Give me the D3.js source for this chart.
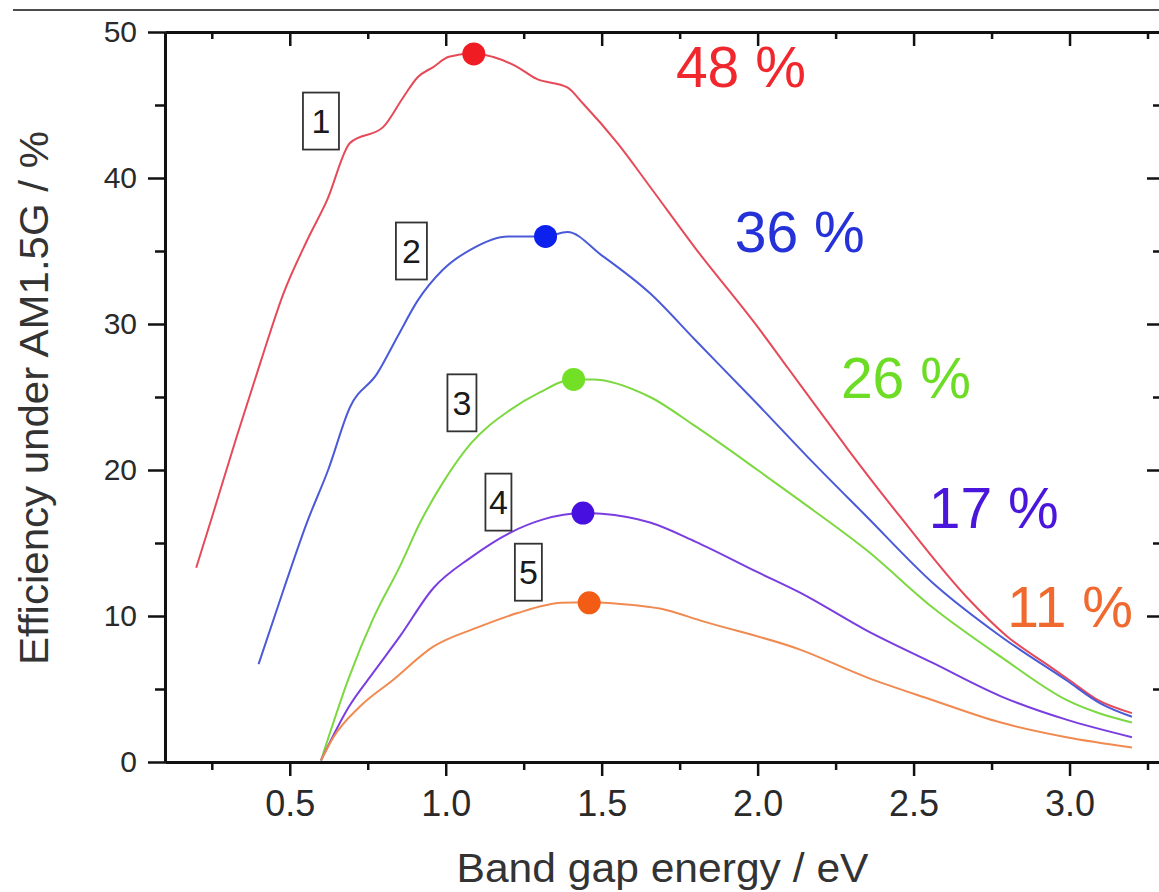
<!DOCTYPE html>
<html>
<head>
<meta charset="utf-8">
<script src="https://cdn.jsdelivr.net/npm/d3@7/dist/d3.min.js"></script>
<style>
  html, body { margin: 0; padding: 0; background: #fff; }
  svg { display: block; font-family: "Liberation Sans", Arial, sans-serif; }
</style>
</head>
<body>
<svg id="chart" width="1159" height="892"></svg>
<script>
// ---- data ----
const xMajorTicks = [0.5, 1.0, 1.5, 2.0, 2.5, 3.0];
const xMinorTicks = [0.25, 0.75, 1.25, 1.75, 2.25, 2.75, 3.25];
const yMajorTicks = [0, 10, 20, 30, 40, 50];
const yMinorTicks = [5, 15, 25, 35, 45];

const series1X = [0.2,0.254,0.33,0.405,0.48,0.555,0.62,0.693,0.8,0.863,0.91,0.96,1.01,1.09,1.15,1.23,1.29,1.39,1.44,1.55,1.655,1.8,2.0,2.1,2.2,2.29,2.457,2.67,2.8,2.94,3.0,3.09,3.2];
const series1Y = [13.3,17.0,22.3,27.3,32.1,35.7,38.5,42.4,43.5,45.5,46.9,47.6,48.3,48.55,48.3,47.6,46.8,46.2,45.1,42.4,39.4,35.2,29.8,26.9,24.0,21.4,16.8,11.3,8.6,6.5,5.6,4.25,3.35];

const series2X = [0.4,0.48,0.555,0.623,0.693,0.78,0.847,0.91,0.99,1.08,1.2,1.32,1.39,1.5,1.655,1.8,2.0,2.16,2.35,2.56,2.78,2.99,3.1,3.2];
const series2Y = [6.7,11.8,16.4,20.0,24.3,26.6,29.2,31.6,33.7,35.1,36.0,36.0,36.3,34.7,32.1,28.9,24.5,20.9,16.8,12.3,8.6,5.6,4.0,3.1];

const series3X = [0.6,0.69,0.767,0.853,0.918,0.99,1.08,1.206,1.3,1.41,1.47,1.655,1.8,2.0,2.136,2.35,2.56,2.78,2.99,3.2];
const series3Y = [0.1,5.8,9.8,13.4,16.4,19.1,21.8,24.1,25.3,26.2,26.2,25.0,23.0,20.0,17.9,14.5,10.6,7.2,4.25,2.7];

const series4X = [0.6,0.69,0.767,0.853,0.96,1.08,1.206,1.31,1.44,1.5,1.655,1.8,2.0,2.136,2.35,2.56,2.78,2.99,3.2];
const series4Y = [0.1,3.8,6.1,8.6,11.9,14.0,15.7,16.6,17.05,17.0,16.4,15.1,13.0,11.6,9.0,6.8,4.5,2.9,1.7];

const series5X = [0.6,0.64,0.725,0.83,0.96,1.1,1.23,1.37,1.46,1.6,1.71,1.815,2.136,2.35,2.56,2.78,2.99,3.2];
const series5Y = [0.1,1.7,3.8,5.6,7.9,9.2,10.2,10.9,10.95,10.75,10.4,9.7,7.7,5.8,4.25,2.7,1.7,1.0];

const peakX = [1.09, 1.32, 1.41, 1.44, 1.46];
const peakY = [48.5, 36.0, 26.2, 17.05, 10.9];
const peakLabels = ["48 %", "36 %", "26 %", "17 %", "11 %"];
const peakLabelX = [1.738, 1.927, 2.267, 2.549, 2.80];
const peakLabelY = [46.2, 34.9, 24.9, 16.0, 9.25];

const curveNames = ["1", "2", "3", "4", "5"];
const boxX = [0.60, 0.89, 1.052, 1.169, 1.265];
const boxY = [43.9, 35.0, 24.6, 17.8, 13.0];

const lineColors = ["#e64a58", "#4a5ad8", "#7cd840", "#7a3ee0", "#f08a50"];
const dotColors  = ["#f01c24", "#0c20ee", "#72e024", "#4810e0", "#f35c14"];
const textColors = ["#f0282e", "#2432d8", "#6cdc24", "#4a16dc", "#f06a30"];

// ---- layout ----
const svg = d3.select("#chart");
const W = 1159, H = 892;
const plot = { left: 165, right: 1160, top: 32, bottom: 762 };

const x = d3.scaleLinear().domain([0.1, 3.29]).range([plot.left, plot.right]);
const y = d3.scaleLinear().domain([0, 50]).range([plot.bottom, plot.top]);

svg.append("rect").attr("width", W).attr("height", H).attr("fill", "#fff");

// thin top border line
svg.append("line").attr("x1", 13).attr("x2", W).attr("y1", 10).attr("y2", 10)
  .attr("stroke", "#111").attr("stroke-width", 1.5);

// ---- curves ----
const allX = [series1X, series2X, series3X, series4X, series5X];
const allY = [series1Y, series2Y, series3Y, series4Y, series5Y];
const line = d3.line().x(d => x(d[0])).y(d => y(d[1])).curve(d3.curveMonotoneX);

allX.forEach((xs, i) => {
  const pts = xs.map((v, j) => [v, allY[i][j]]);
  svg.append("path").datum(pts)
    .attr("d", line)
    .attr("fill", "none")
    .attr("stroke", lineColors[i])
    .attr("stroke-width", 2)
    .attr("stroke-linejoin", "round");
});

// peak dots
svg.append("g").selectAll("circle").data(peakX).join("circle")
  .attr("cx", d => x(d))
  .attr("cy", (d, i) => y(peakY[i]))
  .attr("r", 11.5)
  .attr("fill", (d, i) => dotColors[i]);

// peak labels
svg.append("g").selectAll("text").data(peakLabels).join("text")
  .attr("x", (d, i) => x(peakLabelX[i]))
  .attr("y", (d, i) => y(peakLabelY[i]))
  .attr("font-size", 57)
  .attr("fill", (d, i) => textColors[i])
  .text(d => d);

// numbered boxes
const boxW = [36, 31, 29, 26, 27];
const boxH = 57;
const boxes = svg.append("g").selectAll("g").data(curveNames).join("g")
  .attr("transform", (d, i) => `translate(${x(boxX[i])},${y(boxY[i])})`);
boxes.append("rect")
  .attr("x", (d, i) => -boxW[i] / 2).attr("y", -boxH / 2)
  .attr("width", (d, i) => boxW[i]).attr("height", boxH)
  .attr("fill", "#fff").attr("stroke", "#333").attr("stroke-width", 1.8);
boxes.append("text")
  .attr("text-anchor", "middle")
  .attr("y", 12)
  .attr("font-size", 34)
  .attr("fill", "#1a1a1a")
  .text(d => d);

// ---- axes ----
function styleAxis(g) {
  g.select(".domain").attr("stroke", "#111").attr("stroke-width", 3);
  g.selectAll(".tick line").attr("stroke", "#111").attr("stroke-width", 2.5);
  g.selectAll(".tick text").attr("fill", "#2a2a2a").attr("font-family", "Liberation Sans, Arial, sans-serif");
}

// bottom
svg.append("g").attr("transform", `translate(0,${plot.bottom})`)
  .call(d3.axisBottom(x).tickValues(xMajorTicks).tickSize(14).tickSizeOuter(0).tickPadding(14).tickFormat(d3.format(".1f")))
  .call(styleAxis)
  .call(g => g.selectAll(".tick text").attr("font-size", 36));
svg.append("g").attr("transform", `translate(0,${plot.bottom})`)
  .call(d3.axisBottom(x).tickValues(xMinorTicks).tickSize(8).tickSizeOuter(0).tickFormat(""))
  .call(styleAxis);

// top
svg.append("g").attr("transform", `translate(0,${plot.top})`)
  .call(d3.axisTop(x).tickValues(xMajorTicks).tickSize(-14).tickSizeOuter(0).tickFormat(""))
  .call(styleAxis);
svg.append("g").attr("transform", `translate(0,${plot.top})`)
  .call(d3.axisTop(x).tickValues(xMinorTicks).tickSize(-7).tickSizeOuter(0).tickFormat(""))
  .call(styleAxis);

// left
svg.append("g").attr("transform", `translate(${plot.left},0)`)
  .call(d3.axisLeft(y).tickValues(yMajorTicks).tickSize(17).tickSizeOuter(0).tickPadding(11).tickFormat(d3.format("d")))
  .call(styleAxis)
  .call(g => g.selectAll(".tick text").attr("font-size", 30));
svg.append("g").attr("transform", `translate(${plot.left},0)`)
  .call(d3.axisLeft(y).tickValues(yMinorTicks).tickSize(10).tickSizeOuter(0).tickFormat(""))
  .call(styleAxis);

// right
svg.append("g").attr("transform", `translate(${plot.right},0)`)
  .call(d3.axisRight(y).tickValues(yMajorTicks).tickSize(-13).tickSizeOuter(0).tickFormat(""))
  .call(styleAxis);
svg.append("g").attr("transform", `translate(${plot.right},0)`)
  .call(d3.axisRight(y).tickValues(yMinorTicks).tickSize(-7).tickSizeOuter(0).tickFormat(""))
  .call(styleAxis);

// axis titles
svg.append("text")
  .attr("x", (plot.left + plot.right) / 2).attr("y", 882)
  .attr("text-anchor", "middle")
  .attr("font-size", 40)
  .attr("fill", "#333")
  .attr("textLength", 412).attr("lengthAdjust", "spacingAndGlyphs")
  .text("Band gap energy / eV");

svg.append("text")
  .attr("transform", `translate(48,${(131 + 665) / 2}) rotate(-90)`)
  .attr("text-anchor", "middle")
  .attr("font-size", 40)
  .attr("fill", "#333")
  .attr("textLength", 534).attr("lengthAdjust", "spacingAndGlyphs")
  .text("Efficiency under AM1.5G / %");
</script>
</body>
</html>
